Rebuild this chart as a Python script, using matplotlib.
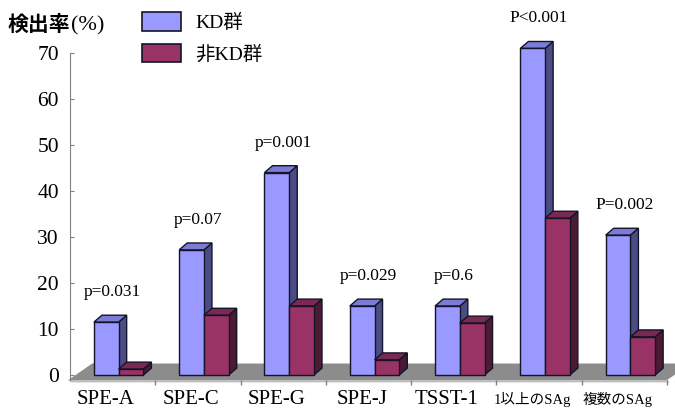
import numpy as np
import matplotlib
matplotlib.use("Agg")
import matplotlib.pyplot as plt
from matplotlib.patches import Polygon, Patch

plt.rcParams["font.family"] = ["Liberation Serif", "Noto Sans CJK JP"]

# -------------------------------------------------------
# データ
# -------------------------------------------------------
categories = ["SPE-A", "SPE-C", "SPE-G", "SPE-J", "TSST-1", "1以上のSAg", "複数のSAg"]
kd = [11.5, 27.2, 44.0, 15.0, 15.0, 71.0, 30.4]
non_kd = [1.3, 13.0, 15.0, 3.3, 11.3, 34.1, 8.3]
p_labels = ["p=0.031", "p=0.07", "p=0.001", "p=0.029", "p=0.6", "P<0.001", "P=0.002"]
yticks = [0, 10, 20, 30, 40, 50, 60, 70]

# 色 (前面, 上面, 側面)
BLUE = ("#9999ff", "#7c7cd6", "#4c4c85")
MAROON = ("#993366", "#7a2952", "#4d1a33")
EDGE = "#141428"

# 3D っぽいずらし量 (データ単位)
DX, DY = 0.094, 1.5
BAR_W = 0.29
FLOOR_Y = -1.1

fig = plt.figure(figsize=(6.75, 4.09), dpi=100)
ax = fig.add_axes([0, 0, 1, 1])
ax.set_xlim(-0.821, 7.093)
ax.set_ylim(-7.39, 81.52)
ax.patch.set_alpha(0)

n = len(categories)

# -------------------------------------------------------
# 床
# -------------------------------------------------------
fdx, fdy = 0.28, 3.6
floor = Polygon([(-0.02, FLOOR_Y), (n, FLOOR_Y), (n + fdx, FLOOR_Y + fdy), (-0.02 + fdx, FLOOR_Y + fdy)],
                closed=True, facecolor="#8c8c8c", edgecolor="none", zorder=1)
ax.add_patch(floor)
strip = Polygon([(-0.02, FLOOR_Y), (n, FLOOR_Y), (n + 0.03, FLOOR_Y - 0.5), (0.01, FLOOR_Y - 0.5)],
                closed=True, facecolor="#bdbdbd", edgecolor="none", zorder=1)
ax.add_patch(strip)
ax.vlines(np.arange(1, n + 1), FLOOR_Y - 1.1, FLOOR_Y, color="#808080", lw=1, zorder=2)


def bar3d(x0, h, colors):
    x1 = x0 + BAR_W
    front = Polygon([(x0, 0), (x1, 0), (x1, h), (x0, h)], closed=True,
                    facecolor=colors[0], edgecolor=EDGE, lw=1, zorder=3)
    top = Polygon([(x0, h), (x1, h), (x1 + DX, h + DY), (x0 + DX, h + DY)], closed=True,
                  facecolor=colors[1], edgecolor=EDGE, lw=1, zorder=3)
    side = Polygon([(x1, 0), (x1 + DX, DY), (x1 + DX, h + DY), (x1, h)], closed=True,
                   facecolor=colors[2], edgecolor=EDGE, lw=1, zorder=3)
    for p in (side, top, front):
        ax.add_patch(p)


for i in range(n):
    bar3d(i + 0.28, kd[i], BLUE)
    bar3d(i + 0.28 + BAR_W, non_kd[i], MAROON)
    ax.text(i + 0.5, kd[i] + 6.5, p_labels[i], ha="center", va="center", fontsize=12.5)
    size = 10.5 if not categories[i].isascii() else 15
    ax.text(i + 0.42, -5.3, categories[i], ha="center", va="center", fontsize=size)

# -------------------------------------------------------
# 縦軸
# -------------------------------------------------------
for s in ["top", "right", "bottom"]:
    ax.spines[s].set_visible(False)
ax.spines["left"].set_position(("data", 0))
ax.spines["left"].set_bounds(FLOOR_Y, 70)
ax.spines["left"].set_color("#808080")
ax.set_yticks(yticks)
ax.set_yticklabels([str(v) for v in yticks])
ax.tick_params(axis="y", direction="in", length=3, color="#808080", pad=8, labelsize=15.5)
ax.set_xticks([])

# 縦軸タイトル (漢字は太め、(%) は細字)
fig.text(8 / 675, 1 - 26 / 409, "検出率", fontsize=15, fontweight="bold", va="center", ha="left")
fig.text(71 / 675, 1 - 26 / 409, "(%)", fontsize=16, va="center", ha="left")

handles = [Patch(facecolor=BLUE[0], edgecolor=EDGE, lw=1.2),
           Patch(facecolor=MAROON[0], edgecolor=EDGE, lw=1.2)]
fig.legend(handles, ["KD群", "非KD群"], loc="upper left", bbox_to_anchor=(142 / 675, 1 - 12 / 409),
           frameon=False, fontsize=14, handlelength=2.0, handleheight=1.1, handletextpad=0.75,
           labelspacing=0.6, borderpad=0, borderaxespad=0)

fig.savefig("out.png", dpi=100)
